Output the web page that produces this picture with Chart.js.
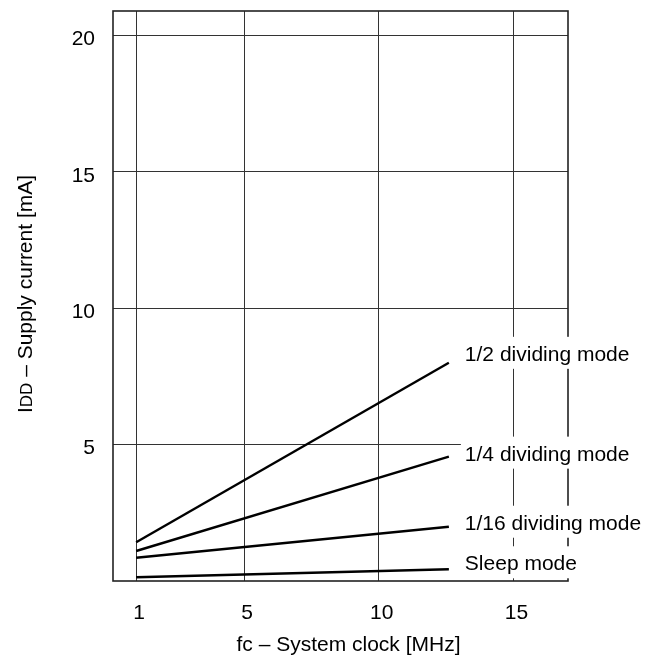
<!DOCTYPE html>
<html><head><meta charset="utf-8">
<script src="https://cdn.jsdelivr.net/npm/chart.js@4/dist/chart.umd.min.js"></script>
<style>html,body{margin:0;padding:0;background:#fff}canvas{display:block}</style>
</head><body><canvas id="c" width="664" height="657"></canvas>
<script>
// ---- data ----
const clockMHz = [1, 12.6];
const halfDividing = [1.42, 8.0];
const quarterDividing = [1.10, 4.56];
const sixteenthDividing = [0.85, 1.99];
const sleepMode = [0.14, 0.43];
const seriesLabels = ['1/2 dividing mode', '1/4 dividing mode', '1/16 dividing mode', 'Sleep mode'];
const xTickValues = [1, 5, 10, 15];
const yTickValues = [5, 10, 15, 20];
const xTitle = 'fc \u2013 System clock [MHz]';
const yTitleMain = 'I';
const yTitleSub = 'DD';
const yTitleRest = ' \u2013 Supply current [mA]';

const FONT = "'Liberation Sans', Arial, Helvetica, sans-serif";
const seriesValues = [halfDividing, quarterDividing, sixteenthDividing, sleepMode];
const labelDy = [-2, 4, 3, 1];

const datasets = seriesValues.map((vals, i) => ({
  label: seriesLabels[i],
  data: clockMHz.map((x, j) => ({x: x, y: vals[j]})),
  borderColor: '#000',
  borderWidth: 2.4,
  pointRadius: 0,
  fill: false,
  tension: 0
}));

const decor = {
  id: 'decor',
  beforeDraw(chart) {
    const ctx = chart.ctx;
    ctx.save();
    ctx.fillStyle = '#fff';
    ctx.fillRect(0, 0, chart.width, chart.height);
    ctx.restore();
  },
  afterDatasetsDraw(chart) {
    const ctx = chart.ctx;
    const a = chart.chartArea;
    const xs = chart.scales.x, ys = chart.scales.y;
    ctx.save();
    // frame
    ctx.strokeStyle = '#222';
    ctx.lineWidth = 1.6;
    ctx.strokeRect(a.left, a.top, a.right - a.left, a.bottom - a.top);
    // series labels with white background
    ctx.font = '21px ' + FONT;
    ctx.textBaseline = 'alphabetic';
    ctx.textAlign = 'left';
    seriesValues.forEach((vals, i) => {
      const endX = xs.getPixelForValue(clockMHz[clockMHz.length - 1]);
      const endY = ys.getPixelForValue(vals[vals.length - 1]);
      const tx = endX + 16;
      const by = endY + labelDy[i];
      const w = ctx.measureText(seriesLabels[i]).width;
      ctx.fillStyle = '#fff';
      const top = by - 24;
      const bottom = Math.min(by + 8, a.bottom - 1.5);
      ctx.fillRect(tx - 4, top, w + 8, bottom - top);
      ctx.fillStyle = '#000';
      ctx.fillText(seriesLabels[i], tx, by);
    });
    // x title
    ctx.font = '21px ' + FONT;
    ctx.textAlign = 'center';
    ctx.textBaseline = 'middle';
    ctx.fillStyle = '#000';
    ctx.fillText(xTitle, (a.left + a.right) / 2 + 8, 645);
    // y title (rotated, with subscript)
    const big = '21px ' + FONT, small = '17px ' + FONT;
    ctx.font = big; const w1 = ctx.measureText(yTitleMain).width;
    const w3 = ctx.measureText(yTitleRest).width;
    ctx.font = small; const w2 = ctx.measureText(yTitleSub).width;
    const total = w1 + w2 + w3;
    ctx.translate(31.5, (a.top + a.bottom) / 2 - 2);
    ctx.rotate(-Math.PI / 2);
    ctx.textAlign = 'left';
    ctx.textBaseline = 'alphabetic';
    let px = -total / 2;
    ctx.font = big; ctx.fillText(yTitleMain, px, 0); px += w1;
    ctx.font = small; ctx.fillText(yTitleSub, px, 0); px += w2;
    ctx.font = big; ctx.fillText(yTitleRest, px, 0);
    ctx.restore();
  }
};

new Chart(document.getElementById('c'), {
  type: 'line',
  data: { datasets },
  options: {
    responsive: false,
    animation: false,
    devicePixelRatio: 1,
    layout: { padding: { top: 11, right: 96, left: 0, bottom: 0 } },
    plugins: { legend: { display: false }, tooltip: { enabled: false } },
    scales: {
      x: {
        type: 'linear',
        min: 0.14, max: 17.02,
        afterBuildTicks(s) { s.ticks = xTickValues.map(v => ({value: v})); },
        afterFit(s) { s.height = 76; s.paddingLeft = 0; s.paddingRight = 0; },
        grid: { color: '#333', lineWidth: 1, drawTicks: false },
        border: { display: false },
        ticks: { color: '#000', font: { family: FONT, size: 21 }, padding: 20, labelOffset: 3, maxRotation: 0, autoSkip: false }
      },
      y: {
        type: 'linear',
        min: 0, max: 20.9,
        afterBuildTicks(s) { s.ticks = yTickValues.map(v => ({value: v})); },
        afterFit(s) { s.width = 113; s.paddingTop = 0; s.paddingBottom = 0; },
        grid: { color: '#333', lineWidth: 1, drawTicks: false },
        border: { display: false },
        ticks: { color: '#000', font: { family: FONT, size: 21 }, padding: 18, labelOffset: 4, autoSkip: false }
      }
    }
  },
  plugins: [decor]
});
</script>
</body></html>
